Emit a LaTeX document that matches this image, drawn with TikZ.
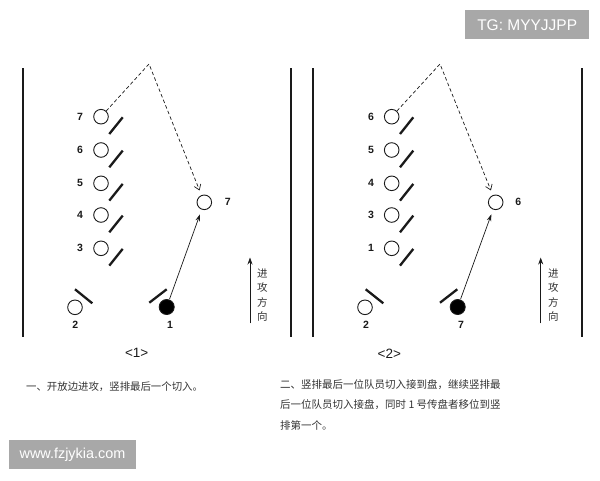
\documentclass[tikz,border=0pt]{standalone}
\usepackage{fontspec}
\setmainfont{Liberation Sans}
\newfontfamily\cjk{Noto Sans CJK SC}
\usetikzlibrary{arrows.meta}
\definecolor{ink}{HTML}{1A1A1A}
\definecolor{txt}{HTML}{333333}
\definecolor{wm}{HTML}{A8A8A8}
\begin{document}
\begin{tikzpicture}[x=1pt,y=-1pt,
  player/.style={circle,draw=ink,line width=0.9pt,minimum size=14.6pt,inner sep=0pt},
  holder/.style={player,fill=black,minimum size=15pt},
  guard/.style={draw=ink,line width=2.3pt},
  num/.style={font=\bfseries\fontsize{10.5}{12}\selectfont,text=ink,inner sep=0pt},
  side/.style={draw=ink,line width=1.8pt},
  runpath/.style={draw=ink,line width=0.7pt,dash pattern=on 3.5pt off 2.5pt,-{Straight Barb[length=5pt,width=7pt]}},
  passpath/.style={draw=ink,line width=0.7pt,-{Stealth[length=7pt,width=4.5pt]}},
  dirarrow/.style={draw=ink,line width=0.8pt,-{Stealth[length=7pt,width=5pt]}},
  vtext/.style={font=\cjk\fontsize{10.5}{14.5}\selectfont,text=txt,align=center,inner sep=0pt},
  captext/.style={font=\fontsize{13.5}{15}\selectfont,text=ink,inner sep=0pt},
  body/.style={font=\cjk\fontsize{10.4}{20.5}\selectfont,text=txt,anchor=north west,inner sep=0pt,align=left},
  wmbox/.style={fill=wm,draw=none},
  wmtext/.style={text=white,inner sep=0pt}
]
\useasboundingbox (0,0) rectangle (600,480);
\fill[white] (0,0) rectangle (600,480);

% ---------- Panel 1 ----------
\draw[side] (22.7,68) -- (22.7,337);
\draw[side] (291,68) -- (291,337);
\foreach \lab/\yy in {7/116.7,6/150,5/183.3,4/215,3/248.3}{
  \node[player] (a\lab) at (101,\yy) {};
  \node[num] (al\lab) at (80,\yy) {\lab};
  \draw[guard] (109.3,\yy+17.3) -- (122.7,\yy+0.6);
}
\node[player] (ar) at (204.3,202.3) {};
\node[num] (arl) at (227.7,202.3) {7};
\node[holder] (af) at (166.7,307) {};
\node[num] (afl) at (170,325) {1};
\draw[guard] (149.3,302.7) -- (166.7,289.3);
\node[player] (a2) at (75,307.3) {};
\node[num] (a2l) at (75.3,325) {2};
\draw[guard] (75,289.3) -- (92.3,303.3);
\coordinate (aapex) at (149,64);
\draw[runpath,shorten >=5pt] (a7) -- (aapex) -- (ar);
\draw[passpath,shorten <=0.5pt,shorten >=5pt] (af) -- (ar);
\coordinate (adir0) at (250,323.3);
\coordinate (adir1) at (250,257.5);
\draw[dirarrow] (adir0) -- (adir1);
\node[vtext] (av) at (262.3,295) {进\\攻\\方\\向};

% ---------- Panel 2 ----------
\draw[side] (313.3,68) -- (313.3,337);
\draw[side] (582.3,68) -- (582.3,337);
\foreach \lab/\yy in {6/116.7,5/150,4/183.3,3/215,1/248.3}{
  \node[player] (b\lab) at (391.7,\yy) {};
  \node[num] (bl\lab) at (371,\yy) {\lab};
  \draw[guard] (400,\yy+17.3) -- (413.3,\yy+0.6);
}
\node[player] (br) at (495.7,202.3) {};
\node[num] (brl) at (518.3,202.3) {6};
\node[holder] (bf) at (457.7,307) {};
\node[num] (bfl) at (461,325) {7};
\draw[guard] (440,302.7) -- (457.3,289.3);
\node[player] (b2) at (365,307.3) {};
\node[num] (b2l) at (366,325) {2};
\draw[guard] (365.7,289.3) -- (383.3,303.3);
\coordinate (bapex) at (440,64);
\draw[runpath,shorten >=5pt] (b6) -- (bapex) -- (br);
\draw[passpath,shorten <=0.5pt,shorten >=5pt] (bf) -- (br);
\coordinate (bdir0) at (540.7,323.3);
\coordinate (bdir1) at (540.7,257.5);
\draw[dirarrow] (bdir0) -- (bdir1);
\node[vtext] (bv) at (553.3,295) {进\\攻\\方\\向};

% ---------- Captions ----------
\node[captext] (c1) at (136.7,353.3) {<1>};
\node[captext] (c2) at (389.3,353.3) {<2>};
\node[body] (t1) at (26,382) {一、开放边进攻，竖排最后一个切入。};
\node[body,font=\cjk\fontsize{10.5}{20.5}\selectfont] (t2) at (280,379) {二、竖排最后一位队员切入接到盘，继续竖排最\\后一位队员切入接盘，同时 1 号传盘者移位到竖\\排第一个。};

% ---------- Watermarks ----------
\fill[wmbox] (465,10) rectangle (589.3,39.3);
\node[wmtext,font=\fontsize{15.5}{17}\selectfont] (w1) at (527.2,24.7) {TG: MYYJJPP};
\fill[wmbox] (9,440) rectangle (136,469.3);
\node[wmtext,font=\fontsize{14.4}{16}\selectfont] (w2) at (72.5,454.7) {www.fzjykia.com};
\end{tikzpicture}
\end{document}
